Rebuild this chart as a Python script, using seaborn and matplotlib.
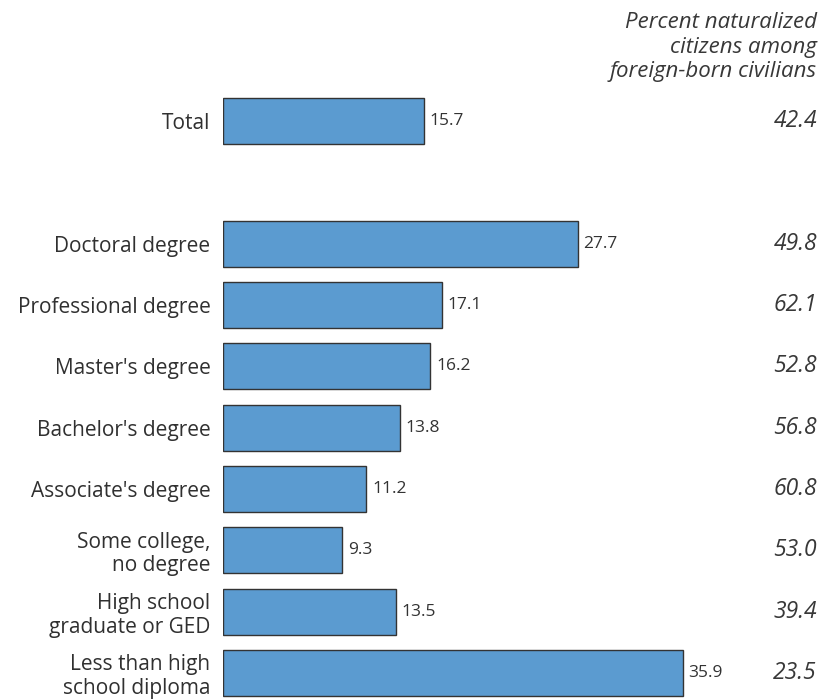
import matplotlib
matplotlib.use("Agg")
import matplotlib.pyplot as plt
import seaborn as sns
import pandas as pd

# Education levels (top to bottom), with an empty slot after the total
categories = ["Total", "", "Doctoral degree", "Professional degree", "Master's degree",
              "Bachelor's degree", "Associate's degree", "Some college,\nno degree",
              "High school\ngraduate or GED", "Less than high\nschool diploma"]
foreign_born_share = [15.7, None, 27.7, 17.1, 16.2, 13.8, 11.2, 9.3, 13.5, 35.9]
naturalized_pct = [42.4, None, 49.8, 62.1, 52.8, 56.8, 60.8, 53.0, 39.4, 23.5]
right_header = "Percent naturalized\ncitizens among\nforeign-born civilians"

sns.set_theme(style="white")
plt.rcParams["font.family"] = ["Open Sans", "DejaVu Sans"]

df = pd.DataFrame({"level": categories, "share": foreign_born_share})
df = df.dropna()

fig = plt.figure(figsize=(8.2, 7.0), dpi=100)
ax = fig.add_axes([223 / 820, 0.0, 1 - 223 / 820, 1 - 90 / 700])

sns.barplot(data=df, x="share", y="level", order=categories, orient="h",
            color="#5b9bd0", saturation=1, width=0.75,
            edgecolor="#333333", linewidth=1.0, ax=ax)

ax.set_xlim(0, (820 - 223) / 12.8)
ax.set_ylim((700 - 121) / 61.33, (90 - 121) / 61.33)

for i, v in enumerate(foreign_born_share):
    if v is None:
        continue
    ax.text(v + 0.45, i, f"{v:.1f}", ha="left", va="center",
            fontsize=12.5, color="#333333")

for i, v in enumerate(naturalized_pct):
    if v is None:
        continue
    fig.text(817 / 820, 1 - (121 + i * 61.33) / 700, f"{v:.1f}", ha="right",
             va="center", fontsize=16.5, style="italic", color="#383838")

fig.text(817 / 820, 1 - 47 / 700, right_header, ha="right", va="center",
         fontsize=16, style="italic", color="#383838", linespacing=1.22)

ax.set_xlabel("")
ax.set_ylabel("")
ax.set_xticks([])
ax.tick_params(axis="y", length=0, pad=9, labelsize=15, labelcolor="#303030")
for lbl in ax.get_yticklabels():
    lbl.set_linespacing(1.15)
sns.despine(ax=ax, left=True, bottom=True)

fig.savefig("out.png", dpi=100)
